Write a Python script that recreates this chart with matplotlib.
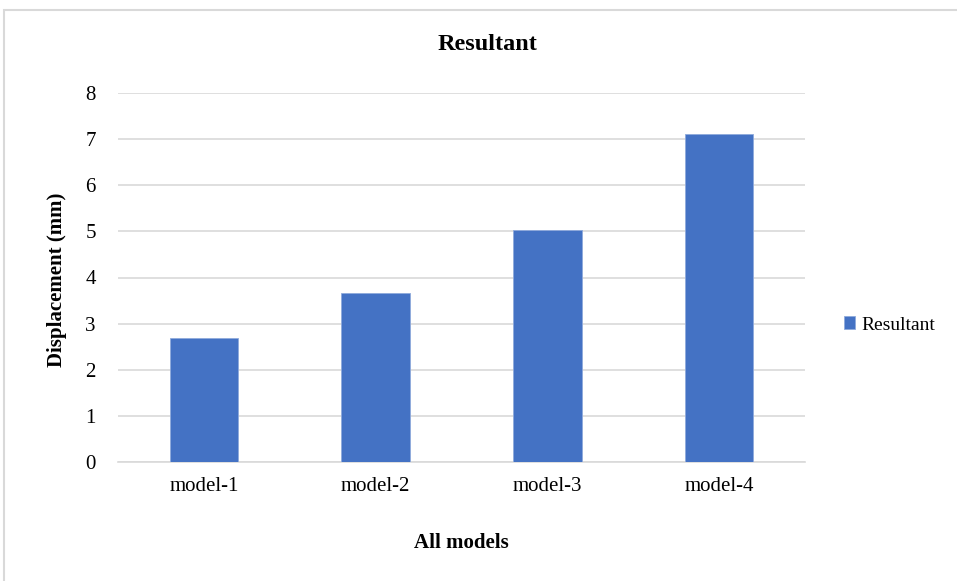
import numpy as np
import matplotlib.pyplot as plt
from matplotlib.patches import Rectangle

# data
models = ['model-1', 'model-2', 'model-3', 'model-4']
resultant = [2.68, 3.67, 5.03, 7.11]
yticks = [0, 1, 2, 3, 4, 5, 6, 7, 8]

plt.rcParams['font.family'] = ['Liberation Serif', 'DejaVu Serif']

W, H = 957, 581
fig = plt.figure(figsize=(W/100, H/100), dpi=100)

# outer chart frame
fig.patches.append(Rectangle((4/W, -0.01), 1.0, (H-10)/H + 0.01, transform=fig.transFigure,
                             fill=False, edgecolor='#d9d9d9', linewidth=1.5))

ax = fig.add_axes([118/W, 1-462/H, (805-118)/W, (462-93)/H])
x = np.arange(len(models))
ax.bar(x, resultant, width=0.4, color='#4472C4', edgecolor='#8faadc', linewidth=0.6,
       label='Resultant', zorder=3)

ax.set_xlim(-0.5, len(models)-0.5)
ax.set_ylim(0, 8)
ax.set_yticks(yticks)
ax.set_xticks(x)
ax.set_xticklabels(models)
ax.grid(axis='y', color='#d9d9d9', linewidth=1.2, zorder=0)
for s in ['top', 'right', 'left']:
    ax.spines[s].set_visible(False)
ax.spines['bottom'].set_color('#d9d9d9')
ax.spines['bottom'].set_linewidth(1.2)
ax.tick_params(length=0, labelsize=15, colors='black')
ax.tick_params(axis='y', pad=16)
ax.tick_params(axis='x', pad=11)

fig.text(487/W, 1-45/H, 'Resultant', ha='center', va='center', fontsize=17.5, fontweight='bold')
fig.text(461/W, 1-543/H, 'All models', ha='center', va='center', fontsize=15, fontweight='bold')
fig.text(57/W, 1-280/H, 'Displacement (mm)', ha='center', va='center', rotation=90,
         fontsize=15, fontweight='bold')

ax.legend(loc='center left', bbox_to_anchor=(826/W, 1-325/H), bbox_transform=fig.transFigure,
          frameon=False, fontsize=14, handlelength=0.6, handleheight=0.6, handletextpad=0.3)

fig.savefig('out.png', dpi=100)
